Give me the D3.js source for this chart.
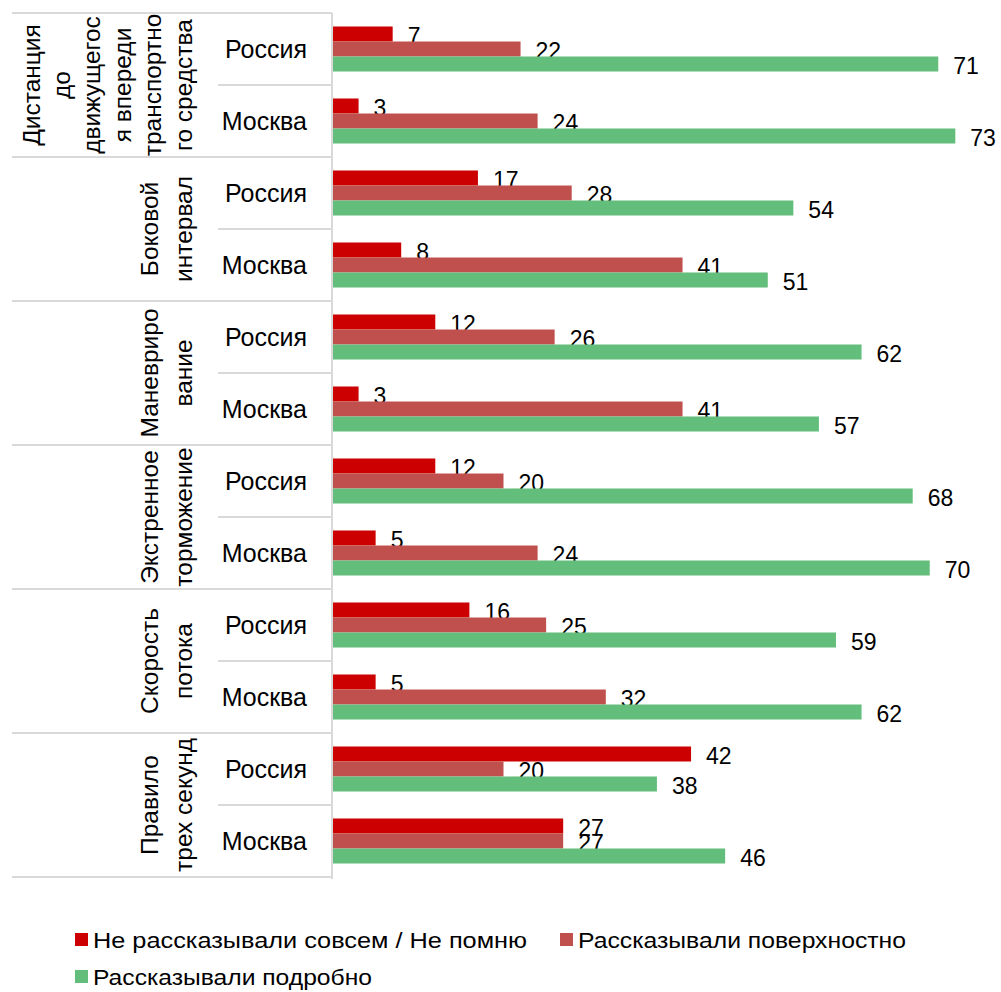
<!DOCTYPE html>
<html>
<head>
<meta charset="utf-8">
<script src="https://cdn.jsdelivr.net/npm/d3@7"></script>
<style>
  body { margin: 0; background: #fff; }
  text { font-family: "Liberation Sans", Arial, sans-serif; fill: #000; }
</style>
</head>
<body>
<script>
// categories (rotated labels, already split into lines like the original)
const groups = [
  ["Дистанция", "до", "движущегос", "я впереди", "транспортно", "го средства"],
  ["Боковой", "интервал"],
  ["Маневриро", "вание"],
  ["Экстренное", "торможение"],
  ["Скорость", "потока"],
  ["Правило", "трех секунд"]
];
const regions = ["Россия", "Москва"];
const seriesNames = ["Не рассказывали совсем / Не помню", "Рассказывали поверхностно", "Рассказывали подробно"];
const colors = ["#cc0000", "#c0504d", "#63be7b"];

// values per group: [Россия, Москва]
const notTold = [[7, 3], [17, 8], [12, 3], [12, 5], [16, 5], [42, 27]];
const superficial = [[22, 24], [28, 41], [26, 41], [20, 24], [25, 32], [20, 27]];
const detailed = [[71, 73], [54, 51], [62, 57], [68, 70], [59, 62], [38, 46]];
const seriesValues = [notTold, superficial, detailed];

const width = 1001, height = 992;
const axisX = 332, plotTop = 13, plotBottom = 877;

const svg = d3.select("body").append("svg")
  .attr("width", width)
  .attr("height", height);

const x = d3.scaleLinear().domain([0, 80]).range([axisX, axisX + 682]);
const yGroup = d3.scaleBand().domain(d3.range(groups.length)).range([plotTop, plotBottom]);
const yRow = d3.scaleBand().domain(d3.range(regions.length)).range([0, yGroup.bandwidth()]);
const ySeries = d3.scaleBand().domain(d3.range(seriesNames.length))
  .range([0, yRow.bandwidth()]).paddingInner(0).paddingOuter(0.9);

const gridColor = "#d9d9d9";

// separator lines of the category axis
svg.append("line")
  .attr("x1", 12).attr("x2", axisX).attr("y1", plotTop).attr("y2", plotTop)
  .attr("stroke", gridColor).attr("stroke-width", 2);
groups.forEach((g, i) => {
  svg.append("line")
    .attr("x1", 12).attr("x2", axisX)
    .attr("y1", yGroup(i) + yGroup.bandwidth()).attr("y2", yGroup(i) + yGroup.bandwidth())
    .attr("stroke", gridColor).attr("stroke-width", 2);
  svg.append("line")
    .attr("x1", 218).attr("x2", axisX)
    .attr("y1", yGroup(i) + yRow(1)).attr("y2", yGroup(i) + yRow(1))
    .attr("stroke", gridColor).attr("stroke-width", 2);
});
svg.append("line")
  .attr("x1", axisX).attr("x2", axisX).attr("y1", plotTop).attr("y2", plotBottom + 2)
  .attr("stroke", gridColor).attr("stroke-width", 2);

// group labels, rotated, lines stacked to the right
groups.forEach((lines, i) => {
  const cy = yGroup(i) + yGroup.bandwidth() / 2;
  const step = lines.length > 2 ? 30.4 : 33.5;
  const lastX = 183;
  lines.forEach((ln, j) => {
    const cx = lastX - (lines.length - 1 - j) * step;
    svg.append("text")
      .attr("transform", `translate(${cx},${cy}) rotate(-90)`)
      .attr("text-anchor", "middle")
      .attr("dominant-baseline", "central")
      .attr("font-size", 24.5)
      .text(ln);
  });
});

// rows
groups.forEach((g, i) => {
  regions.forEach((r, k) => {
    const y0 = yGroup(i) + yRow(k);
    svg.append("text")
      .attr("x", 307).attr("y", y0 + yRow.bandwidth() / 2)
      .attr("text-anchor", "end")
      .attr("dominant-baseline", "central")
      .attr("font-size", 25)
      .text(r);

    seriesValues.forEach((vals, s) => {
      const v = vals[i][k];
      const by = y0 + ySeries(s);
      svg.append("rect")
        .attr("x", x(0) + 1).attr("y", by)
        .attr("width", x(v) - x(0))
        .attr("height", ySeries.bandwidth())
        .attr("fill", colors[s]);
      svg.append("text")
        .attr("x", x(v) + 16).attr("y", by + ySeries.bandwidth() / 2 + 2)
        .attr("dominant-baseline", "central")
        .attr("font-size", 23)
        .text(v);
    });
  });
});

// legend
const legendPos = [[75, 940], [560, 940], [75, 977]];
const legendW = [434, 328, 279];
seriesNames.forEach((name, s) => {
  const [lx, ly] = legendPos[s];
  svg.append("rect")
    .attr("x", lx).attr("y", ly - 7)
    .attr("width", 13).attr("height", 13)
    .attr("fill", colors[s]);
  svg.append("text")
    .attr("x", lx + 18).attr("y", ly)
    .attr("dominant-baseline", "central")
    .attr("font-size", 22)
    .attr("textLength", legendW[s])
    .attr("lengthAdjust", "spacingAndGlyphs")
    .text(name);
});
</script>
</body>
</html>
